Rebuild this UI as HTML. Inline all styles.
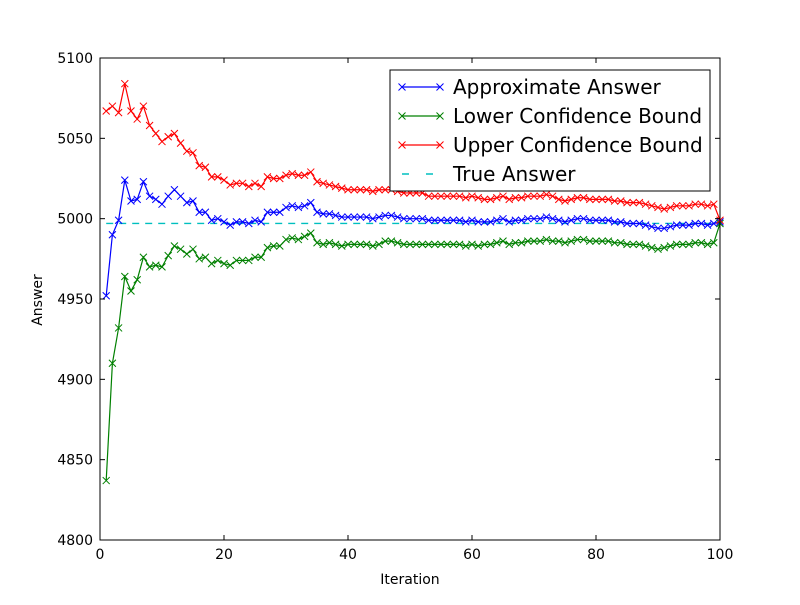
<!DOCTYPE html>
<html><head><meta charset="utf-8"><style>
body{margin:0;background:#fff;}
svg text{font-family:"DejaVu Sans","Liberation Sans",sans-serif;}
</style></head><body>
<svg id="chart" width="800" height="600" xmlns="http://www.w3.org/2000/svg">
<rect width="800" height="600" fill="#fff"/>
<g id="plot"></g>
</svg>
<script>
const iterations = Array.from({length:100},(_,i)=>i+1);
const approx = [4952,4990,4999,5024,5011,5012,5023,5014,5012,5009,
5014,5018,5014,5010,5011,5004,5004,4999,5000,4998,
4996,4998,4998,4997,4999,4998,5004,5004,5004,5007,
5008,5007,5008,5010,5004,5003,5003,5002,5001,5001,
5001,5001,5001,5000,5001,5002,5002,5001,5000,5000,
5000,5000,4999,4999,4999,4999,4999,4999,4998,4999,
4998,4998,4998,4999,5000,4998,4999,4999,5000,5000,
5000,5001,5000,4999,4998,4999,5000,5000,4999,4999,
4999,4999,4998,4998,4997,4997,4997,4996,4995,4994,
4994,4995,4996,4996,4996,4997,4997,4996,4997,4998];
const halfWidth = [115,80,67,60,56,50,47,44,41,39,
37,35,33,32,30,29,28,27,26,26,
25,24,24,23,23,22,22,21,21,20,
20,20,19,19,19,19,18,18,18,17,
17,17,17,17,17,16,16,16,16,16,
16,16,15,15,15,15,15,15,15,15,
15,14,14,14,14,14,14,14,14,14,
14,14,14,13,13,13,13,13,13,13,
13,13,13,13,13,13,13,13,13,13,
12,12,12,12,12,12,12,12,12,1];
const trueAnswer = 4997;
const xTicks = [0,20,40,60,80,100];
const yTicks = [4800,4850,4900,4950,5000,5050,5100];

const L=100,R=720,T=58,B=540;
const X=v=>L+(v-0)/(100-0)*(R-L);
const Y=v=>B-(v-4800)/(5100-4800)*(B-T);
const NS='http://www.w3.org/2000/svg';
const g=document.getElementById('plot');
function mk(tag,attrs,parent){const e=document.createElementNS(NS,tag);for(const k in attrs)e.setAttribute(k,attrs[k]);(parent||g).appendChild(e);return e;}

const lower = approx.map((v,i)=>v-halfWidth[i]);
const upper = approx.map((v,i)=>v+halfWidth[i]);

const ta=mk('line',{x1:X(1),x2:X(100),y1:Y(trueAnswer),y2:Y(trueAnswer),stroke:'#00bfbf','stroke-width':1.4,'stroke-dasharray':'7,6'});



function series(vals,color,name){
  const grp=mk('g',{});
  
  
  const p=mk('polyline',{points:vals.map((v,i)=>X(iterations[i])+','+Y(v)).join(' '),fill:'none',stroke:color,'stroke-width':1.2},grp);
  
  
  vals.forEach((v,i)=>{
    const cx=X(iterations[i]),cy=Y(v),s=3.5;
    const m=mk('path',{d:`M${cx-s},${cy-s}L${cx+s},${cy+s}M${cx-s},${cy+s}L${cx+s},${cy-s}`,stroke:color,'stroke-width':1},grp);
    
    
  });
}
series(approx,'#0000ff','approximate-answer');
series(lower,'#008000','lower-bound');
series(upper,'#ff0000','upper-bound');

const fr=mk('rect',{x:L,y:T,width:R-L,height:B-T,fill:'none',stroke:'#000','stroke-width':1});



xTicks.forEach(t=>{
  const x=X(t);
  mk('line',{x1:x,x2:x,y1:B,y2:B-5,stroke:'#000'});
  mk('line',{x1:x,x2:x,y1:T,y2:T+5,stroke:'#000'});
  const tx=mk('text',{x:x,y:B+19,'text-anchor':'middle','font-size':14});
  tx.textContent=t;
  
  
});
yTicks.forEach(t=>{
  const y=Y(t);
  mk('line',{x1:L,x2:L+5,y1:y,y2:y,stroke:'#000'});
  mk('line',{x1:R,x2:R-5,y1:y,y2:y,stroke:'#000'});
  const tx=mk('text',{x:L-7,y:y+5,'text-anchor':'end','font-size':14});
  tx.textContent=t;
  
  
});
const xl=mk('text',{x:410,y:584,'text-anchor':'middle','font-size':14});
xl.textContent='Iteration';


const yl=mk('text',{x:0,y:0,'text-anchor':'middle','font-size':14,transform:'translate(42,300) rotate(-90)'});
yl.textContent='Answer';



const lg=mk('g',{});


mk('rect',{x:390,y:70,width:320,height:121,fill:'#fff',stroke:'#000','stroke-width':1},lg);
const entries=[['Approximate Answer','#0000ff',false],['Lower Confidence Bound','#008000',false],['Upper Confidence Bound','#ff0000',false],['True Answer','#00bfbf',true]];
entries.forEach((e,i)=>{
  const y=87+i*29;
  const eg=mk('g',{},lg);
  
  
  if(e[2]){
    mk('line',{x1:402,x2:440,y1:y,y2:y,stroke:e[1],'stroke-width':1.4,'stroke-dasharray':'7,17'},eg);
  }else{
    mk('line',{x1:402,x2:440,y1:y,y2:y,stroke:e[1],'stroke-width':1.2},eg);
    [402,440].forEach(cx=>mk('path',{d:`M${cx-3.5},${y-3.5}L${cx+3.5},${y+3.5}M${cx-3.5},${y+3.5}L${cx+3.5},${y-3.5}`,stroke:e[1]},eg));
  }
  const t=mk('text',{x:453,y:y+7,'font-size':20},eg);
  t.textContent=e[0];
});
</script>
</body></html>
